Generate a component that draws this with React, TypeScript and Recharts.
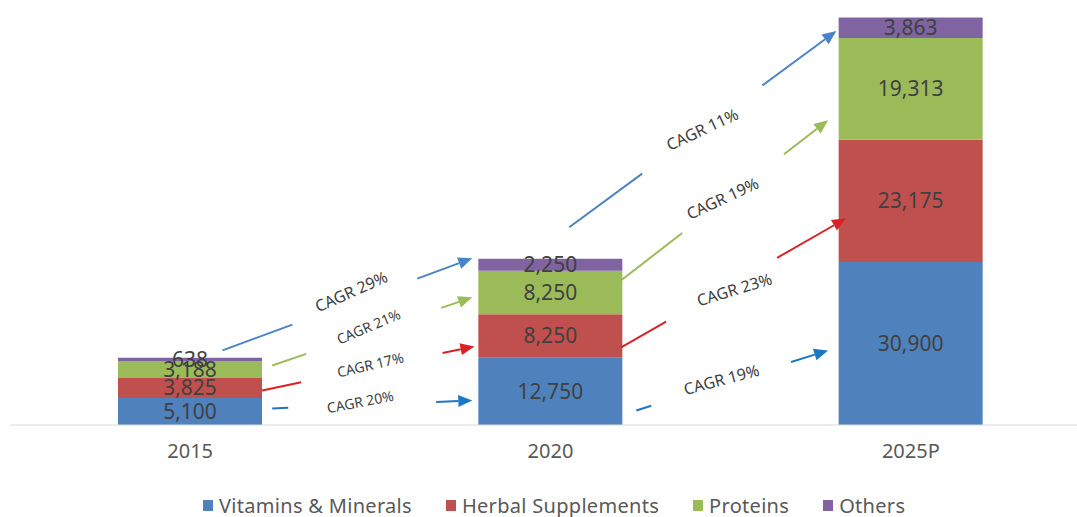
import React from "react";
import { Bar, BarChart, LabelList, Legend, ReferenceDot, ReferenceLine, XAxis, YAxis } from "recharts";

const YEARS = ["2015", "2020", "2025P"];
const VITAMINS = [5100, 12750, 30900];
const HERBAL = [3825, 8250, 23175];
const PROTEINS = [3188, 8250, 19313];
const OTHERS = [638, 2250, 3863];

const SERIES = [
  { key: "vitamins", name: "Vitamins & Minerals", color: "#4F81BD", values: VITAMINS },
  { key: "herbal", name: "Herbal Supplements", color: "#C0504D", values: HERBAL },
  { key: "proteins", name: "Proteins", color: "#9BBB59", values: PROTEINS },
  { key: "others", name: "Others", color: "#8064A2", values: OTHERS },
];

const DATA = YEARS.map((year, i) => {
  const row: Record<string, string | number> = { year, pos: i };
  SERIES.forEach((s) => (row[s.key] = s.values[i]));
  return row;
});

// 5-year CAGR between two periods
const cagr = (a: number, b: number) => `CAGR ${Math.round((Math.pow(b / a, 1 / 5) - 1) * 100)}%`;

// hand-placed annotation arrows, in data units (x: category index on hidden axis, y: value)
const ARROWS = [
  { series: 3, from: 0, x1: 0.09, y1: 14140, x2: 0.783, y2: 31600, gap: [0.28, 0.78], lx: 0.447, ly: 25340, angle: -24, size: 16, color: "#4A84C8" },
  { series: 2, from: 0, x1: 0.228, y1: 11290, x2: 0.783, y2: 24200, gap: [0.17, 0.845], lx: 0.495, ly: 18700, angle: -23, size: 14, color: "#9BBB59" },
  { series: 1, from: 0, x1: 0.2, y1: 6550, x2: 0.789, y2: 14900, gap: [0.184, 0.85], lx: 0.5, ly: 11480, angle: -13, size: 14, color: "#D82228" },
  { series: 0, from: 0, x1: 0.228, y1: 3130, x2: 0.783, y2: 4650, gap: [0.08, 0.82], lx: 0.472, ly: 4460, angle: -11, size: 14, color: "#1C78C6" },
  { series: 3, from: 1, x1: 1.052, y1: 37490, x2: 1.793, y2: 74690, gap: [0.273, 0.723], lx: 1.421, ly: 56080, angle: -25, size: 16, color: "#4A84C8" },
  { series: 2, from: 1, x1: 1.196, y1: 27430, x2: 1.77, y2: 57790, gap: [0.295, 0.787], lx: 1.477, ly: 42990, angle: -25, size: 16, color: "#9BBB59" },
  { series: 1, from: 1, x1: 1.196, y1: 14710, x2: 1.82, y2: 39190, gap: [0.2, 0.693], lx: 1.51, ly: 25720, angle: -17, size: 16, color: "#D82228" },
  { series: 0, from: 1, x1: 1.238, y1: 2750, x2: 1.77, y2: 14140, gap: [0.078, 0.807], lx: 1.474, ly: 8640, angle: -15, size: 16, color: "#1C78C6" },
];

function ArrowShape(props: any) {
  const { x1, y1, x2, y2, gap, color } = props;
  const dx = x2 - x1;
  const dy = y2 - y1;
  const len = Math.hypot(dx, dy);
  const ux = dx / len;
  const uy = dy / len;
  const head = 14;
  const hw = 6;
  const bx = x2 - ux * head;
  const by = y2 - uy * head;
  return (
    <g>
      <line x1={x1} y1={y1} x2={x1 + dx * gap[0]} y2={y1 + dy * gap[0]} stroke={color} strokeWidth={2} />
      <line x1={x1 + dx * gap[1]} y1={y1 + dy * gap[1]} x2={bx} y2={by} stroke={color} strokeWidth={2} />
      <polygon points={`${x2},${y2} ${bx - uy * hw},${by + ux * hw} ${bx + uy * hw},${by - ux * hw}`} fill={color} />
    </g>
  );
}

function LegendContent() {
  return (
    <div style={{ display: "flex", alignItems: "center", height: 24 }}>
      {SERIES.map((s) => (
        <div key={s.key} style={{ display: "flex", alignItems: "center", marginRight: 34 }}>
          <span style={{ width: 10, height: 11, background: s.color, marginRight: 6, display: "inline-block" }} />
          <span style={{ fontSize: 20, color: "#595959", letterSpacing: 0.3, whiteSpace: "nowrap" }}>{s.name}</span>
        </div>
      ))}
    </div>
  );
}

export default function App() {
  return (
    <div
      style={{
        position: "absolute",
        left: 0,
        top: 0,
        width: 1077,
        height: 517,
        overflow: "hidden",
        background: "#fff",
        fontFamily: '"Noto Sans", sans-serif',
      }}
    >
      <BarChart width={1100} height={517} data={DATA} margin={{ top: 3, right: 9, left: 10, bottom: 0 }}>
        <XAxis
          dataKey="year"
          height={68}
          axisLine={{ stroke: "#D9D9D9" }}
          tickLine={false}
          tickSize={0}
          tickMargin={19}
          tick={{ fill: "#595959", fontSize: 20 }}
        />
        <XAxis
          xAxisId="n"
          dataKey="pos"
          type="number"
          domain={[0, 2]}
          padding={{ left: 180, right: 180 }}
          allowDataOverflow
          hide
        />
        <YAxis hide domain={[0, 80000]} allowDataOverflow />
        <Legend verticalAlign="bottom" content={LegendContent} wrapperStyle={{ left: 203, bottom: 0, width: "auto", height: 24 }} />
        {SERIES.map((s) => (
          <Bar key={s.key} dataKey={s.key} name={s.name} stackId="a" fill={s.color} barSize={144} isAnimationActive={false}>
            <LabelList
              dataKey={s.key}
              position="center"
              fill="#404040"
              fontSize={21}
              formatter={(v: any) => Number(v).toLocaleString("en-US")}
            />
          </Bar>
        ))}
        {ARROWS.map((a, i) => (
          <ReferenceLine
            key={`l${i}`}
            xAxisId="n"
            ifOverflow="visible"
            segment={[
              { x: a.x1, y: a.y1 },
              { x: a.x2, y: a.y2 },
            ]}
            shape={(p: any) => <ArrowShape {...p} gap={a.gap} color={a.color} />}
          />
        ))}
        {ARROWS.map((a, i) => (
          <ReferenceDot
            key={`t${i}`}
            xAxisId="n"
            x={a.lx}
            y={a.ly}
            ifOverflow="visible"
            shape={(p: any) => (
              <text
                transform={`translate(${p.cx},${p.cy}) rotate(${a.angle})`}
                textAnchor="middle"
                dominantBaseline="central"
                fontSize={a.size}
                fill="#404040"
              >
                {cagr(SERIES[a.series].values[a.from], SERIES[a.series].values[a.from + 1])}
              </text>
            )}
          />
        ))}
      </BarChart>
    </div>
  );
}
